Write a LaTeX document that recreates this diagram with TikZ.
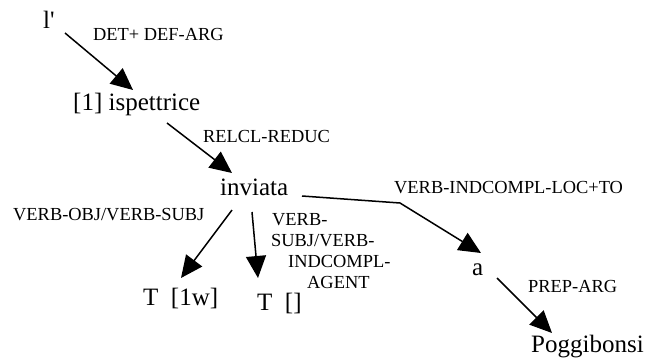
\documentclass[tikz,border=0pt]{standalone}
\usepackage{fontspec}
\setmainfont{Liberation Serif}
\usetikzlibrary{arrows.meta}
\begin{document}
\begin{tikzpicture}[x=1pt,y=-1pt,
  word/.style={inner sep=0pt,anchor=base west,font=\fontsize{25}{30}\selectfont},
  lbl/.style={inner sep=0pt,anchor=base west,font=\fontsize{18.4}{21}\selectfont},
  arr/.style={line width=1.5pt,-{Triangle[length=22pt,width=20pt]}}]
\useasboundingbox (0,0) rectangle (659,364);
% words
\node[word] (l) at (43,28) {l\textquotesingle};
\node[word] (isp) at (73,110) {[1] ispettrice};
\node[word] (inv) at (220,195) {inviata};
\node[word] (t1) at (143,305) {T\ \ [1w]};
\node[word] (t2) at (257,310) {T\ \ []};
\node[word] (a) at (472,275) {a};
\node[word] (pog) at (531,352) {Poggibonsi};
% labels
\node[lbl] (l1) at (93,40) {DET+ DEF-ARG};
\node[lbl] (l2) at (203,142) {RELCL-REDUC};
\node[lbl] (l3) at (394,193) {VERB-INDCOMPL-LOC+TO};
\node[lbl] (l4) at (528,292) {PREP-ARG};
\node[lbl] (l5) at (13,220) {VERB-OBJ/VERB-SUBJ};
\node[lbl,anchor=north west,align=left] (l6) at (271,212.8)
  {\hspace*{1pt}VERB-\\SUBJ/VERB-\\\hspace*{17pt}INDCOMPL-\\\hspace*{36pt}AGENT};
% edges
\draw[arr] ([shift={(22,5)}]l.base west) -- ([shift={(60,-20)}]isp.base west);
\draw[arr] ([shift={(94,13)}]isp.base west) -- ([shift={(12,-22)}]inv.base west);
\draw[arr] ([shift={(82,1)}]inv.base west) -- ([shift={(180,8)}]inv.base west) -- ([shift={(9,-22)}]a.base west);
\draw[arr] ([shift={(12,15)}]inv.base west) -- ([shift={(38,-27)}]t1.base west);
\draw[arr] ([shift={(32,17)}]inv.base west) -- ([shift={(1,-32)}]t2.base west);
\draw[arr] ([shift={(25,3)}]a.base west) -- ([shift={(21,-19)}]pog.base west);
\end{tikzpicture}
\end{document}
